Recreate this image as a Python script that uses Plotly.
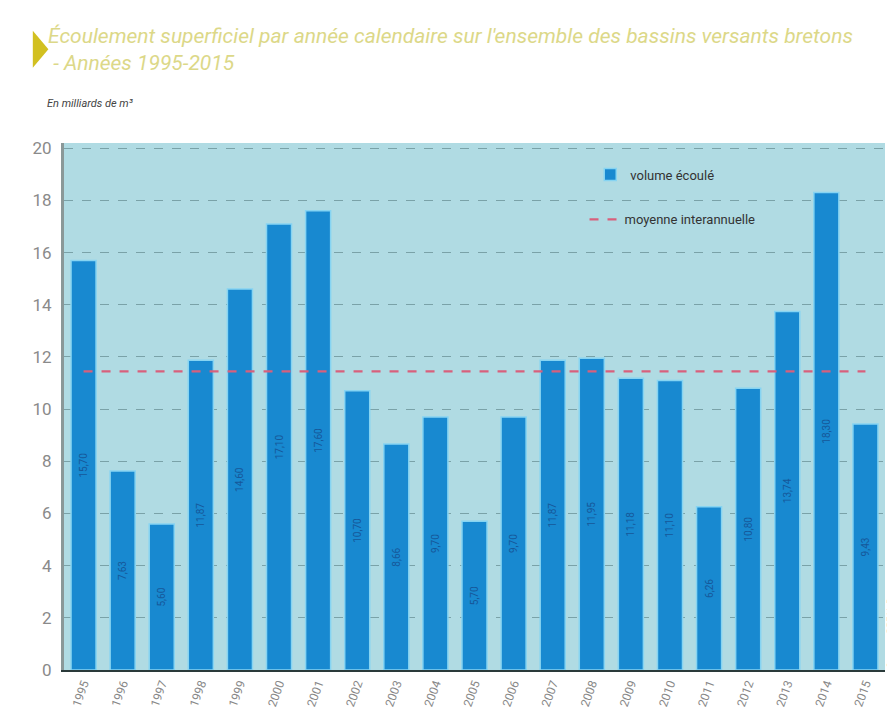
import plotly.graph_objects as go

years = ["1995", "1996", "1997", "1998", "1999", "2000", "2001", "2002", "2003", "2004",
         "2005", "2006", "2007", "2008", "2009", "2010", "2011", "2012", "2013", "2014", "2015"]
volumes = [15.7, 7.63, 5.6, 11.87, 14.6, 17.1, 17.6, 10.7, 8.66, 9.7,
           5.7, 9.7, 11.87, 11.95, 11.18, 11.1, 6.26, 10.8, 13.74, 18.3, 9.43]
mean_value = 11.45
y_ticks = [0, 2, 4, 6, 8, 10, 12, 14, 16, 18, 20]

title_text = ("<i>Écoulement superficiel par année calendaire sur l'ensemble des bassins versants bretons"
              "<br> - Années 1995-2015</i>")
unit_text = "En milliards de m³"
source_text = "Source : DREAL Bretagne"

fig = go.Figure()
fig.add_trace(go.Bar(
    x=years, y=volumes, name="volume écoulé", legend="legend",
    marker=dict(color="#1889d0", line=dict(color="#86d4f2", width=1.5)),
    texttemplate="%{y:.2f}", textposition="inside", insidetextanchor="middle",
    textangle=-90, textfont=dict(size=10, color="#16589a"),
))
fig.add_trace(go.Scatter(
    x=years, y=[mean_value] * len(years), mode="lines", name="moyenne interannuelle",
    legend="legend2",
    line=dict(color="#d8607c", width=2.2, dash="dash"),
))

fig.update_layout(
    width=895, height=713,
    margin=dict(l=56, r=18, t=135, b=46),
    paper_bgcolor="white", plot_bgcolor="#b0dbe3",
    bargap=0.36, separators=", ",
    font=dict(family="Roboto, Liberation Sans, sans-serif", color="#555"),
    xaxis=dict(
        type="category", tickangle=-70, showgrid=False,
        tickfont=dict(size=12, color="#888"),
        showline=True, linecolor="#2a3a3a", linewidth=2, ticks="",
    ),
    yaxis=dict(
        range=[0, 20.2], tickvals=y_ticks, showgrid=True, gridcolor="#7aa2a8",
        griddash="dash", gridwidth=1, zeroline=False,
        showline=True, linecolor="#8a9898", linewidth=3,
        tickfont=dict(size=17, color="#8a8a8a", family="Liberation Sans Narrow, Roboto, sans-serif"),
        ticks="", ticklabelstandoff=6,
    ),
    legend=dict(x=0.641, y=0.94, xanchor="left", yanchor="middle",
                bgcolor="rgba(0,0,0,0)", font=dict(size=13, color="#333")),
    legend2=dict(x=0.634, y=0.855, xanchor="left", yanchor="middle",
                 bgcolor="rgba(0,0,0,0)", font=dict(size=13, color="#333")),
    showlegend=True,
)

fig.add_annotation(
    text=title_text, xref="paper", yref="paper", x=-0.022, y=1.23,
    xanchor="left", yanchor="top", align="left", showarrow=False,
    font=dict(size=21, color="#dcd888", family="Roboto, sans-serif"),
)
fig.add_annotation(
    text="<i>" + unit_text + "</i>", xref="paper", yref="paper", x=-0.023, y=1.075,
    xanchor="left", yanchor="middle", showarrow=False,
    font=dict(size=11, color="#444"),
)
fig.add_annotation(
    text=source_text, xref="paper", yref="paper", x=1.007, y=0.0,
    xanchor="center", yanchor="bottom", textangle=-90, showarrow=False,
    font=dict(size=9, color="#888"),
)
fig.add_shape(
    type="path", xref="paper", yref="paper",
    path="M -0.038 1.213 L -0.019 1.178 L -0.038 1.143 Z",
    fillcolor="#d2c020", line=dict(width=0),
)

fig.write_html("out.html")
